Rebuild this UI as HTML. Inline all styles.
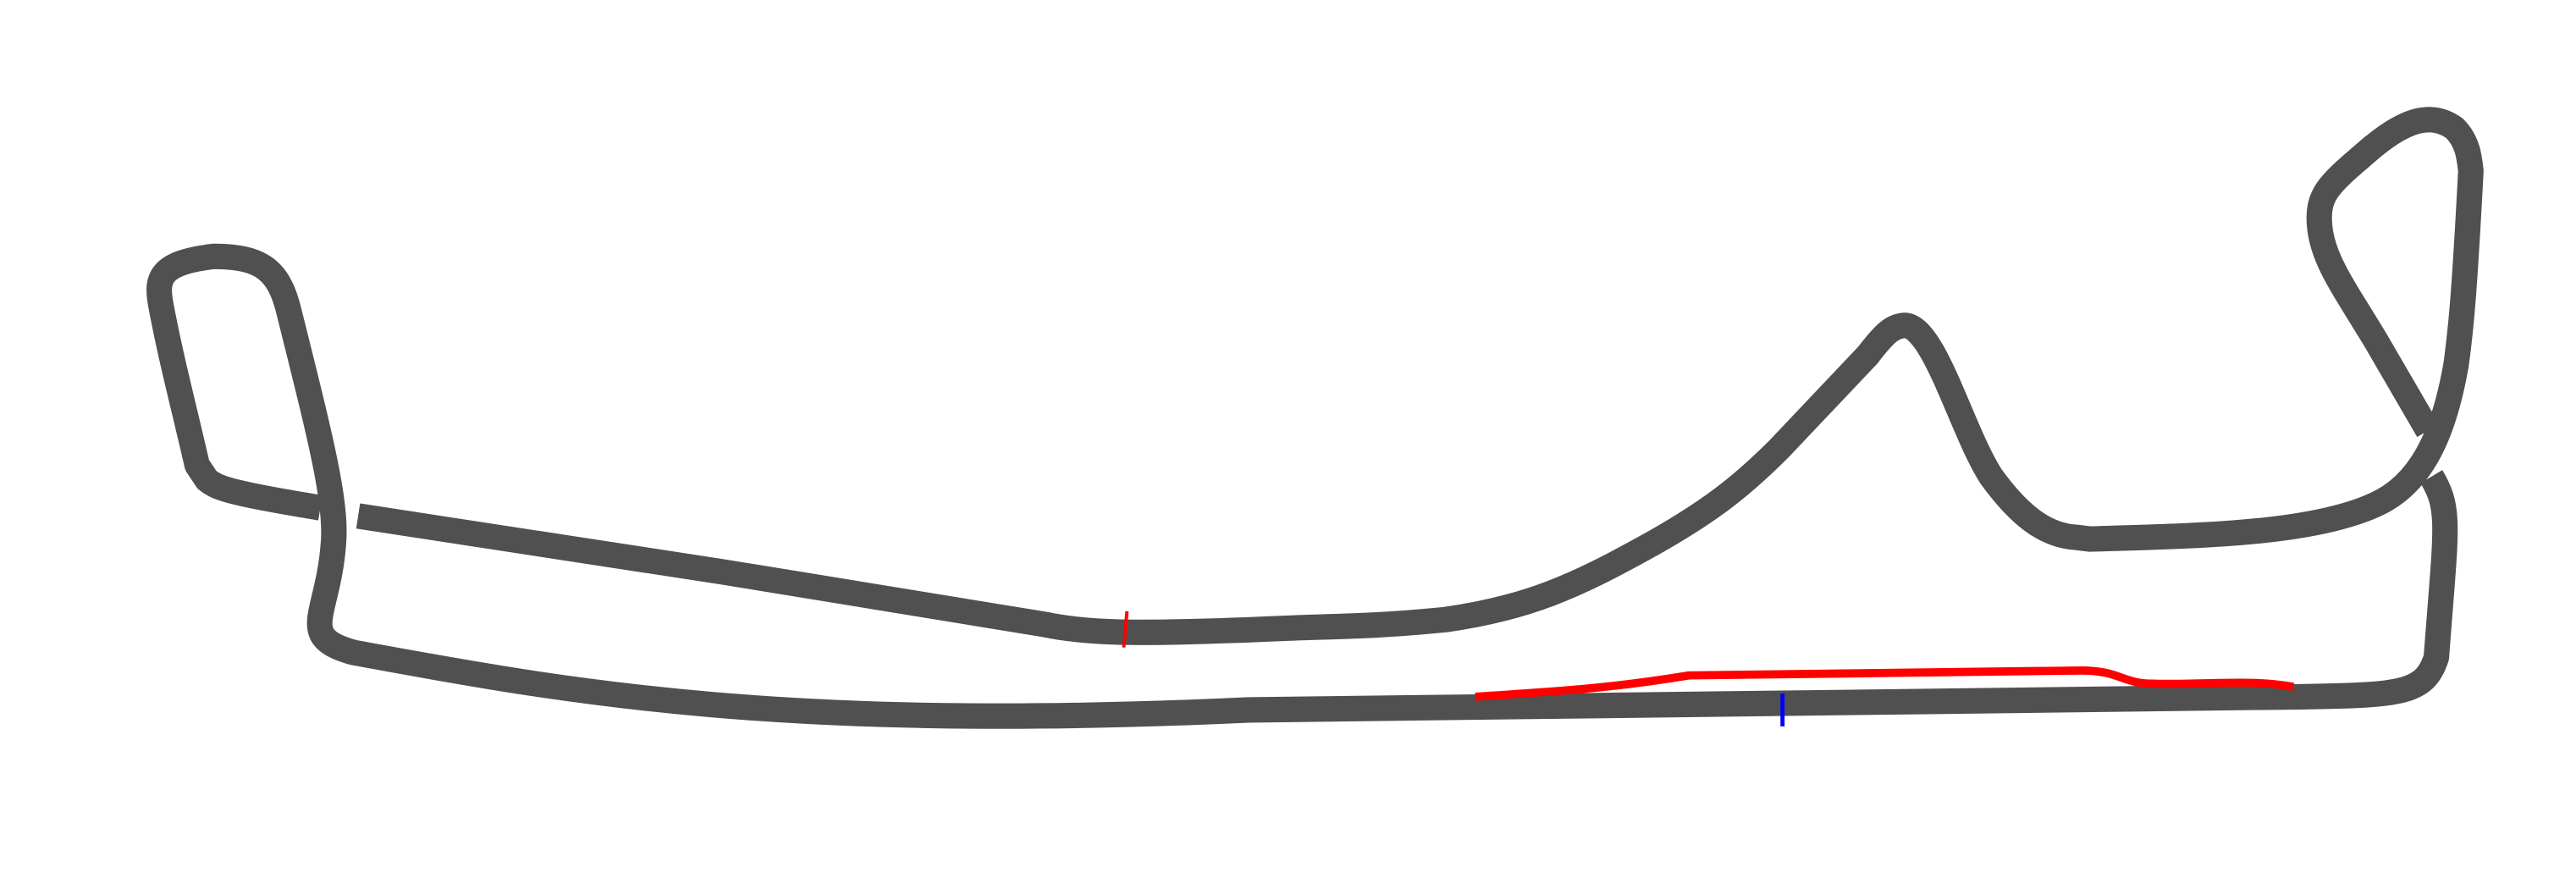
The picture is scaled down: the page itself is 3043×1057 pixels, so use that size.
<!DOCTYPE html>
<html><head><meta charset="utf-8"><style>html,body{margin:0;padding:0;background:#fff;}svg{display:block}</style></head>
<body>
<svg width="3043" height="1057" viewBox="0 0 1568 544.6" xmlns="http://www.w3.org/2000/svg">
<g fill="none" stroke="#505050" stroke-width="15.5" stroke-linejoin="round">
<path d="M195,309 C140,300 132,297 126,292 L120,283 C112,248 104,218 98,186 C95,170 96,160 130,156 C160,156 170,165 176,190 C195,266 205,305 203,330 C200,375 180,387 215,397 C350,422 480,445 760,432 L1400,424 C1462,423 1476,422 1483,400 C1489,320 1492,310 1480,290"/>
<path d="M1478,262 L1446,207 C1426,174 1414,158 1412,138 C1410,118 1418,112 1440,93 C1464,72 1480,68 1494,78 C1502,86 1503,95 1504,104 C1500,180 1498,200 1495,222 C1489,256 1478,290 1450,305 C1412,325 1340,326 1272,328 L1264,327 C1244,326 1228,312 1212,290 C1194,262 1178,200 1160,198 C1152,198 1147,203 1137,216 L1083,273 C1060,296 1040,312 1000,334 C960,356 930,370 880,377 C840,381 820,381 790,382 C700,386 664,386 636,380 L440,348 L218,314"/>
</g>
<path d="M898,424 C960,420 985,418 1028,411 L1267,408 C1290,408 1292,416 1310,416 C1340,417 1370,413 1396,418" fill="none" stroke="#ff0000" stroke-width="5"/>
<line x1="686" y1="372" x2="684" y2="394" stroke="#ff0000" stroke-width="2"/>
<line x1="1085" y1="422" x2="1085" y2="442" stroke="#0000ff" stroke-width="2.5"/>
</svg>
</body></html>
